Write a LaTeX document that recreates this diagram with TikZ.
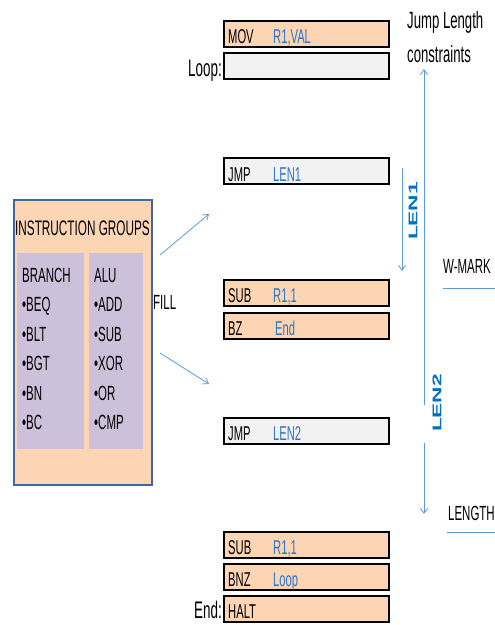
\documentclass[tikz,border=0pt]{standalone}
\usepackage{fontspec}
\setmainfont[FakeStretch=0.56]{Liberation Sans}
\newfontfamily\lenfont[FakeStretch=1.8]{Liberation Sans}
\usetikzlibrary{arrows.meta}
\definecolor{peach}{HTML}{FCD5B5}
\definecolor{lgray}{HTML}{F2F2F2}
\definecolor{lilac}{HTML}{CCC0DA}
\definecolor{frameblue}{HTML}{41689C}
\definecolor{arrowblue}{HTML}{5B9BD5}
\definecolor{opblue}{HTML}{2E75C6}
\definecolor{lenblue}{HTML}{0070C0}
\begin{document}
\begin{tikzpicture}[x=1pt,y=-1pt,
  instr/.style={draw=black, line width=1.6pt, minimum width=165pt, minimum height=26pt, inner sep=0pt, anchor=north west},
  peachbox/.style={instr, fill=peach},
  graybox/.style={instr, fill=lgray},
  op/.style={anchor=base west, inner sep=0pt, font=\fontsize{20}{20}\selectfont},
  opv/.style={op, text=opblue},
  lbl/.style={anchor=base east, inner sep=0pt, font=\fontsize{24}{24}\selectfont},
  txt/.style={anchor=base west, inner sep=0pt, font=\fontsize{20.5}{20.5}\selectfont},
  panel/.style={fill=lilac, draw=none, inner sep=0pt, anchor=north west},
  barrow/.style={draw=arrowblue, line width=0.8pt, -{Straight Barb[length=5pt,width=7pt]}},
  bline/.style={draw=arrowblue, line width=0.8pt},
  lentxt/.style={text=lenblue, inner sep=0pt, rotate=90, font=\lenfont\bfseries\fontsize{12.6}{12.6}\selectfont}
]
\useasboundingbox (0,0) rectangle (495,625);

% instruction boxes
\node[peachbox] (mov) at (223,20) {};
\node[op] (movop) at (228,43) {MOV};
\node[opv] (movarg) at (273,43) {R1,VAL};

\node[graybox] (loop) at (223,52) {};
\node[lbl] (looplbl) at (222,76) {Loop:};

\node[graybox] (jmpa) at (223,157) {};
\node[op] (jmpaop) at (228,181) {JMP};
\node[opv] (jmpaarg) at (273,181) {LEN1};

\node[peachbox] (suba) at (223,279) {};
\node[op] (subaop) at (228,302) {SUB};
\node[opv] (subaarg) at (273,302) {R1,1};

\node[peachbox] (bz) at (223,312) {};
\node[op] (bzop) at (228,335) {BZ};
\node[opv] (bzarg) at (275,335) {End};

\node[graybox] (jmpb) at (223,417) {};
\node[op] (jmpbop) at (228,440) {JMP};
\node[opv] (jmpbarg) at (273,440) {LEN2};

\node[peachbox] (subb) at (223,531) {};
\node[op] (subbop) at (228,554) {SUB};
\node[opv] (subbarg) at (273,554) {R1,1};

\node[peachbox] (bnz) at (223,563) {};
\node[op] (bnzop) at (228,586) {BNZ};
\node[opv] (bnzarg) at (273,586) {Loop};

\node[peachbox] (halt) at (223,595) {};
\node[op] (haltop) at (228,618) {HALT};
\node[lbl] (endlbl) at (222,618) {End:};

% left group box
\node[draw=frameblue, line width=2.4pt, fill=peach, minimum width=138pt, minimum height=285pt, inner sep=0pt, anchor=north west] (groups) at (13,199) {};
\node[anchor=base west, inner sep=0pt, font=\fontsize{21}{21}\selectfont] (title) at (15,235) {INSTRUCTION GROUPS};
\node[panel, minimum width=67pt, minimum height=196pt] (pbranch) at (17,253) {};
\node[panel, minimum width=54pt, minimum height=196pt] (palu) at (89,253) {};
\node[txt] (b0) at (22,282) {BRANCH};
\node[txt] (b1) at (22,311.5) {•BEQ};
\node[txt] (b2) at (22,341) {•BLT};
\node[txt] (b3) at (22,370.5) {•BGT};
\node[txt] (b4) at (22,400) {•BN};
\node[txt] (b5) at (22,429.5) {•BC};
\node[txt] (a0) at (94,282) {ALU};
\node[txt] (a1) at (94,311.5) {•ADD};
\node[txt] (a2) at (94,341) {•SUB};
\node[txt] (a3) at (94,370.5) {•XOR};
\node[txt] (a4) at (94,400) {•OR};
\node[txt] (a5) at (94,429.5) {•CMP};

\node[txt] (fill) at (153,309) {FILL};

\coordinate (fa0) at (160,255);
\coordinate (fa1) at (209,214);
\coordinate (fb0) at (160,353);
\coordinate (fb1) at (209,384);
\draw[barrow] (fa0) -- (fa1);
\draw[barrow] (fb0) -- (fb1);

% right side annotations
\node[anchor=base west, inner sep=0pt, font=\fontsize{23.5}{23.5}\selectfont] (jl1) at (407,28) {Jump Length};
\node[anchor=base west, inner sep=0pt, font=\fontsize{23.5}{23.5}\selectfont] (jl2) at (407,62) {constraints};

\coordinate (len2top) at (424,69);
\coordinate (len2gapa) at (424,405);
\coordinate (len2gapb) at (424,443);
\coordinate (len2bot) at (424,514);
\draw[barrow] (len2gapa) -- (len2top);
\draw[barrow] (len2gapb) -- (len2bot);
\node[lentxt] (len2) at (437,403) {LEN2};

\coordinate (len1top) at (402,168);
\coordinate (len1bot) at (402,271);
\draw[barrow] (len1top) -- (len1bot);
\node[lentxt] (len1) at (413,211) {LEN1};

\node[txt] (wmark) at (443,273) {W-MARK};
\coordinate (wl0) at (443,288);
\coordinate (wl1) at (495,288);
\draw[bline] (wl0) -- (wl1);

\node[txt] (length) at (448,520) {LENGTH};
\coordinate (ll0) at (447,532);
\coordinate (ll1) at (495,532);
\draw[bline] (ll0) -- (ll1);
\end{tikzpicture}
\end{document}
